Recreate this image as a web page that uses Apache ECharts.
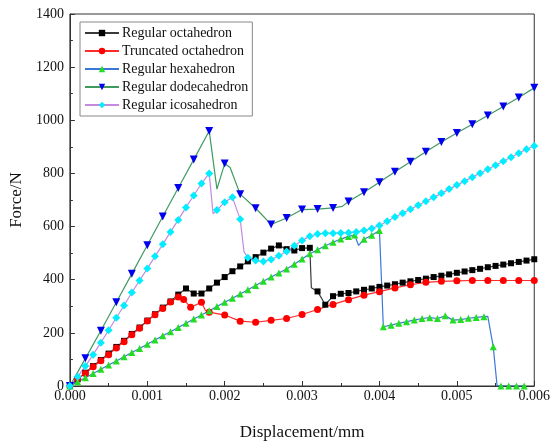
<!DOCTYPE html>
<html><head><meta charset="utf-8">
<script src="https://cdn.jsdelivr.net/npm/echarts@6/dist/echarts.min.js"></script>
<style>html,body{margin:0;padding:0;background:#fff}#c{width:553px;height:446px}</style>
</head><body><div id="c"></div>
<script>
// ---- data ----
const xTicks = [0, 0.001, 0.002, 0.003, 0.004, 0.005, 0.006];
const yTicks = [0, 200, 400, 600, 800, 1000, 1200, 1400];
const seriesNames = ["Regular octahedron","Truncated octahedron","Regular hexahedron","Regular dodecahedron","Regular icosahedron"];

const octX = [0,0.0001,0.0002,0.0003,0.0004,0.0005,0.0006,0.0007,0.0008,0.0009,0.001,0.0011,0.0012,0.0013,0.0014,0.0015,0.0016,0.0017,0.0018,0.0019,0.002,0.0021,0.0022,0.0023,0.0024,0.0025,0.0026,0.0027,0.0028,0.0029,0.003,0.0031,0.00312,0.0032,0.0033,0.0034,0.0035,0.0036,0.0037,0.0038,0.0039,0.004,0.0041,0.0042,0.0043,0.0044,0.0045,0.0046,0.0047,0.0048,0.0049,0.005,0.0051,0.0052,0.0053,0.0054,0.0055,0.0056,0.0057,0.0058,0.0059,0.006];
const octY = [0,25,50,75,98,122,147,170,196,220,246,270,295,318,344,367,348,348,367,389,410,432,450,469,485,502,517,529,515,510,519,520,370,356,306,338,347,350,356,362,367,373,378,383,389,394,399,404,410,415,420,426,431,436,441,447,452,457,462,467,472,477];
const octNoMark = [32];

const truX = [0,0.0001,0.0002,0.0003,0.0004,0.0005,0.0006,0.0007,0.0008,0.0009,0.001,0.0011,0.0012,0.0013,0.0014,0.00147,0.00156,0.0017,0.00175,0.0018,0.002,0.0022,0.0024,0.0026,0.0028,0.003,0.0032,0.0034,0.0036,0.0038,0.004,0.0042,0.0044,0.0046,0.0048,0.005,0.0052,0.0054,0.0056,0.0058,0.006];
const truY = [0,28,47,72,95,118,143,167,193,217,245,268,292,316,335,326,296,315,285,278,267,244,240,247,254,269,288,307,325,342,355,369,381,390,394,396,397,397,397,397,397];
const truNoMark = [18];

const hexX = [0,0.0001,0.0002,0.0003,0.0004,0.0005,0.0006,0.0007,0.0008,0.0009,0.001,0.0011,0.0012,0.0013,0.0014,0.0015,0.0016,0.0017,0.0018,0.0019,0.002,0.0021,0.0022,0.0023,0.0024,0.0025,0.0026,0.0027,0.0028,0.0029,0.003,0.0031,0.0032,0.0033,0.0034,0.0035,0.0036,0.00368,0.00373,0.0038,0.0039,0.004,0.00405,0.00415,0.00425,0.00435,0.00445,0.00455,0.00465,0.00475,0.00485,0.00495,0.00505,0.00515,0.00525,0.00535,0.0054,0.00547,0.00552,0.00557,0.00567,0.00577,0.00587];
const hexY = [0,16,31,47,63,79,94,110,126,141,157,173,189,204,220,236,252,267,283,299,315,330,346,362,378,394,410,425,440,458,478,498,513,528,541,553,563,568,529,552,567,585,223,229,236,242,248,254,257,254,264,248,250,255,258,261,262,148,0,0,0,0,0];
const hexNoMark = [38,56,58];

const dodX = [0,0.0002,0.0004,0.0006,0.0008,0.001,0.0012,0.0014,0.0016,0.0018,0.0019,0.002,0.00207,0.0022,0.0024,0.0026,0.0028,0.003,0.0032,0.0034,0.00352,0.0036,0.0038,0.004,0.0042,0.0044,0.0046,0.0048,0.005,0.0052,0.0054,0.0056,0.0058,0.006];
const dodY = [0,104,208,315,422,530,638,745,852,960,741,837,822,722,669,608,632,664,666,670,676,694,729,767,806,844,882,918,952,985,1018,1052,1086,1122];
const dodNoMark = [10,12,20];

const icoX = [0,0.0001,0.0002,0.0003,0.0004,0.0005,0.0006,0.0007,0.0008,0.0009,0.001,0.0011,0.0012,0.0013,0.0014,0.0015,0.0016,0.0017,0.0018,0.00185,0.0019,0.002,0.0021,0.0022,0.00225,0.0023,0.0024,0.0025,0.0026,0.0027,0.0028,0.0029,0.003,0.0031,0.0032,0.0033,0.0034,0.0035,0.0036,0.0037,0.0038,0.0039,0.004,0.0041,0.0042,0.0043,0.0044,0.0045,0.0046,0.0047,0.0048,0.0049,0.005,0.0051,0.0052,0.0053,0.0054,0.0055,0.0056,0.0057,0.0058,0.0059,0.006];
const icoY = [0,35,75,118,163,210,257,303,352,397,442,488,533,580,625,672,717,762,800,648,662,692,710,628,505,483,472,469,476,490,506,528,548,564,572,575,575,576,577,580,585,593,604,620,636,650,665,680,695,710,725,741,756,771,786,801,816,831,846,861,876,891,903];
const icoNoMark = [19,24];

// ---- chart ----
const FONT = "Liberation Serif";
function build(xs, ys, noMark) {
  return xs.map((x, i) => noMark.indexOf(i) >= 0 ? {value:[x, ys[i]], symbol:'none'} : [x, ys[i]]);
}
const styles = [
  {line:'#3a3a3a', mk:'#000000', symbol:'rect', size:6, rot:0},
  {line:'#ff2a2a', mk:'#ff0000', symbol:'circle', size:7, rot:0},
  {line:'#3a78d8', mk:'#22dd22', symbol:'triangle', size:7, rot:0},
  {line:'#3f9a60', mk:'#0000ee', symbol:'triangle', size:8, rot:180},
  {line:'#c48ae0', mk:'#00eeff', symbol:'diamond', size:8, rot:0}
];
const datasets = [
  build(octX, octY, octNoMark),
  build(truX, truY, truNoMark),
  build(hexX, hexY, hexNoMark),
  build(dodX, dodY, dodNoMark),
  build(icoX, icoY, icoNoMark)
];
const chart = echarts.init(document.getElementById('c'), null, {renderer:'canvas'});
chart.setOption({
  animation:false,
  backgroundColor:'#ffffff',
  grid:{left:68, right:15, top:14, bottom:58, show:true, borderColor:'#333', borderWidth:1, backgroundColor:'transparent'},
  legend:{
    orient:'vertical', left:80, top:22, padding:[4,4,4,4],
    borderColor:'#888', borderWidth:1, backgroundColor:'#fff',
    itemWidth:34, itemHeight:8, itemGap:4,
    textStyle:{fontFamily:FONT, fontSize:14, color:'#111', padding:[0,0,0,-2]},
    data:seriesNames
  },
  xAxis:{
    type:'value', min:xTicks[0], max:xTicks[xTicks.length-1], interval:0.001,
    name:'Displacement/mm', nameLocation:'middle', nameGap:38,
    nameTextStyle:{fontFamily:FONT, fontSize:17, color:'#111'},
    axisLine:{show:true, lineStyle:{color:'#333', width:1}},
    axisTick:{show:true, inside:true, length:5, lineStyle:{color:'#333'}},
    minorTick:{show:true, splitNumber:2, length:3, lineStyle:{color:'#333'}},
    splitLine:{show:false},
    axisLabel:{fontFamily:FONT, fontSize:14, color:'#111', margin:3, formatter:v=>v.toFixed(3)}
  },
  yAxis:{
    type:'value', min:yTicks[0], max:yTicks[yTicks.length-1], interval:200,
    name:'Force/N', nameLocation:'middle', nameGap:40, nameRotate:90,
    nameTextStyle:{fontFamily:FONT, fontSize:17, color:'#111'},
    axisLine:{show:true, lineStyle:{color:'#333', width:1}},
    axisTick:{show:true, inside:true, length:5, lineStyle:{color:'#333'}},
    minorTick:{show:true, splitNumber:2, length:3, lineStyle:{color:'#333'}},
    splitLine:{show:false},
    axisLabel:{fontFamily:FONT, fontSize:14, color:'#111', margin:6, formatter:v=>String(v)}
  },
  series: seriesNames.map((n, k) => ({
    name:n, type:'line', data:datasets[k],
    symbol:styles[k].symbol, symbolSize:styles[k].size, symbolRotate:styles[k].rot,
    showAllSymbol:true,
    lineStyle:{color:styles[k].line, width:1.2},
    itemStyle:{color:styles[k].mk, borderWidth:0},
    emphasis:{disabled:true}
  }))
});
</script></body></html>
